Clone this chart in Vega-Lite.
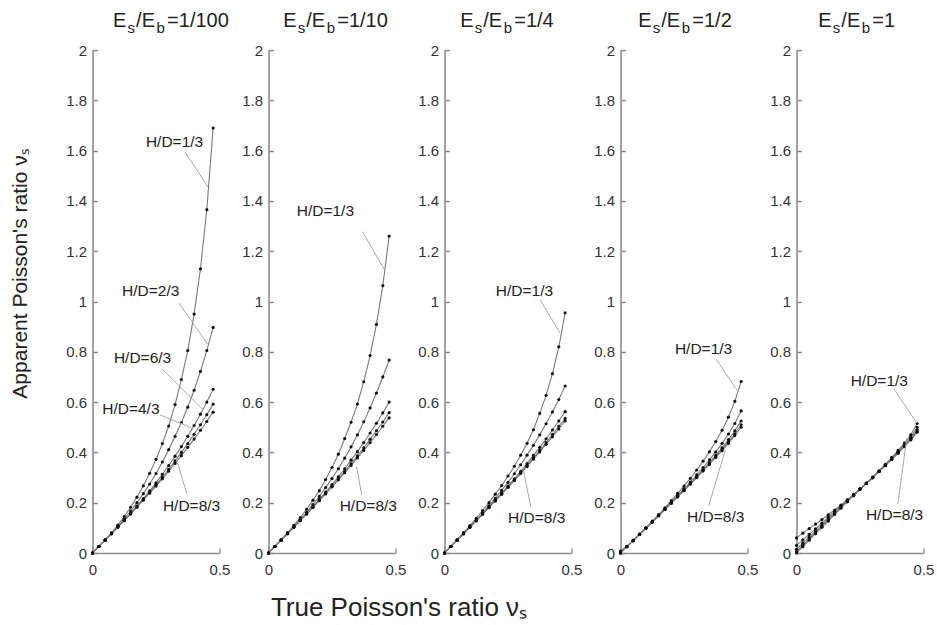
{
"$schema":"https://vega.github.io/schema/vega-lite/v6.json",
"background":"white",
"padding":{"left":9.5,"top":10,"right":5,"bottom":5},
"bounds":"flush",
"spacing":49,
"config":{
 "view":{"stroke":null},
 "font":"Liberation Sans",
 "axis":{"grid":false,"domainColor":"#8a8a8a","domainWidth":1.6,"tickColor":"#8a8a8a","tickWidth":1.4,"labelFont":"Liberation Sans","labelFontSize":15,"labelColor":"#333","titleFont":"Liberation Sans","titleFontSize":21,"titleFontWeight":"normal","titleColor":"#222","labelFlush":false},
 "axisX":{"tickSize":-5,"labelPadding":14},
 "axisY":{"tickSize":-5,"labelPadding":11}
},
"datasets":{
"curves":[
{"p":1,"h":"1/3","x":0,"y":0},{"p":1,"h":"1/3","x":0.025,"y":0.026},{"p":1,"h":"1/3","x":0.05,"y":0.052},{"p":1,"h":"1/3","x":0.075,"y":0.08},{"p":1,"h":"1/3","x":0.1,"y":0.111},{"p":1,"h":"1/3","x":0.125,"y":0.145},{"p":1,"h":"1/3","x":0.15,"y":0.182},{"p":1,"h":"1/3","x":0.175,"y":0.222},{"p":1,"h":"1/3","x":0.2,"y":0.267},{"p":1,"h":"1/3","x":0.225,"y":0.317},{"p":1,"h":"1/3","x":0.25,"y":0.372},{"p":1,"h":"1/3","x":0.275,"y":0.435},{"p":1,"h":"1/3","x":0.3,"y":0.505},{"p":1,"h":"1/3","x":0.325,"y":0.59},{"p":1,"h":"1/3","x":0.35,"y":0.69},{"p":1,"h":"1/3","x":0.375,"y":0.805},{"p":1,"h":"1/3","x":0.4,"y":0.95},{"p":1,"h":"1/3","x":0.425,"y":1.13},{"p":1,"h":"1/3","x":0.45,"y":1.365},{"p":1,"h":"1/3","x":0.475,"y":1.69},
{"p":1,"h":"2/3","x":0,"y":0},{"p":1,"h":"2/3","x":0.025,"y":0.026},{"p":1,"h":"2/3","x":0.05,"y":0.052},{"p":1,"h":"2/3","x":0.075,"y":0.078},{"p":1,"h":"2/3","x":0.1,"y":0.106},{"p":1,"h":"2/3","x":0.125,"y":0.136},{"p":1,"h":"2/3","x":0.15,"y":0.167},{"p":1,"h":"2/3","x":0.175,"y":0.2},{"p":1,"h":"2/3","x":0.2,"y":0.236},{"p":1,"h":"2/3","x":0.225,"y":0.274},{"p":1,"h":"2/3","x":0.25,"y":0.316},{"p":1,"h":"2/3","x":0.275,"y":0.362},{"p":1,"h":"2/3","x":0.3,"y":0.411},{"p":1,"h":"2/3","x":0.325,"y":0.464},{"p":1,"h":"2/3","x":0.35,"y":0.519},{"p":1,"h":"2/3","x":0.375,"y":0.58},{"p":1,"h":"2/3","x":0.4,"y":0.647},{"p":1,"h":"2/3","x":0.425,"y":0.722},{"p":1,"h":"2/3","x":0.45,"y":0.805},{"p":1,"h":"2/3","x":0.475,"y":0.897},
{"p":1,"h":"4/3","x":0,"y":0},{"p":1,"h":"4/3","x":0.025,"y":0.026},{"p":1,"h":"4/3","x":0.05,"y":0.051},{"p":1,"h":"4/3","x":0.075,"y":0.077},{"p":1,"h":"4/3","x":0.1,"y":0.104},{"p":1,"h":"4/3","x":0.125,"y":0.131},{"p":1,"h":"4/3","x":0.15,"y":0.158},{"p":1,"h":"4/3","x":0.175,"y":0.187},{"p":1,"h":"4/3","x":0.2,"y":0.216},{"p":1,"h":"4/3","x":0.225,"y":0.247},{"p":1,"h":"4/3","x":0.25,"y":0.279},{"p":1,"h":"4/3","x":0.275,"y":0.313},{"p":1,"h":"4/3","x":0.3,"y":0.348},{"p":1,"h":"4/3","x":0.325,"y":0.385},{"p":1,"h":"4/3","x":0.35,"y":0.423},{"p":1,"h":"4/3","x":0.375,"y":0.464},{"p":1,"h":"4/3","x":0.4,"y":0.507},{"p":1,"h":"4/3","x":0.425,"y":0.552},{"p":1,"h":"4/3","x":0.45,"y":0.6},{"p":1,"h":"4/3","x":0.475,"y":0.651},
{"p":1,"h":"6/3","x":0,"y":0},{"p":1,"h":"6/3","x":0.025,"y":0.026},{"p":1,"h":"6/3","x":0.05,"y":0.051},{"p":1,"h":"6/3","x":0.075,"y":0.077},{"p":1,"h":"6/3","x":0.1,"y":0.103},{"p":1,"h":"6/3","x":0.125,"y":0.13},{"p":1,"h":"6/3","x":0.15,"y":0.156},{"p":1,"h":"6/3","x":0.175,"y":0.184},{"p":1,"h":"6/3","x":0.2,"y":0.212},{"p":1,"h":"6/3","x":0.225,"y":0.241},{"p":1,"h":"6/3","x":0.25,"y":0.271},{"p":1,"h":"6/3","x":0.275,"y":0.301},{"p":1,"h":"6/3","x":0.3,"y":0.333},{"p":1,"h":"6/3","x":0.325,"y":0.366},{"p":1,"h":"6/3","x":0.35,"y":0.4},{"p":1,"h":"6/3","x":0.375,"y":0.435},{"p":1,"h":"6/3","x":0.4,"y":0.472},{"p":1,"h":"6/3","x":0.425,"y":0.51},{"p":1,"h":"6/3","x":0.45,"y":0.55},{"p":1,"h":"6/3","x":0.475,"y":0.592},
{"p":1,"h":"8/3","x":0,"y":0},{"p":1,"h":"8/3","x":0.025,"y":0.026},{"p":1,"h":"8/3","x":0.05,"y":0.051},{"p":1,"h":"8/3","x":0.075,"y":0.077},{"p":1,"h":"8/3","x":0.1,"y":0.103},{"p":1,"h":"8/3","x":0.125,"y":0.129},{"p":1,"h":"8/3","x":0.15,"y":0.155},{"p":1,"h":"8/3","x":0.175,"y":0.182},{"p":1,"h":"8/3","x":0.2,"y":0.21},{"p":1,"h":"8/3","x":0.225,"y":0.238},{"p":1,"h":"8/3","x":0.25,"y":0.266},{"p":1,"h":"8/3","x":0.275,"y":0.295},{"p":1,"h":"8/3","x":0.3,"y":0.325},{"p":1,"h":"8/3","x":0.325,"y":0.356},{"p":1,"h":"8/3","x":0.35,"y":0.387},{"p":1,"h":"8/3","x":0.375,"y":0.42},{"p":1,"h":"8/3","x":0.4,"y":0.453},{"p":1,"h":"8/3","x":0.425,"y":0.488},{"p":1,"h":"8/3","x":0.45,"y":0.523},{"p":1,"h":"8/3","x":0.475,"y":0.56},
{"p":2,"h":"1/3","x":0,"y":0},{"p":2,"h":"1/3","x":0.025,"y":0.026},{"p":2,"h":"1/3","x":0.05,"y":0.053},{"p":2,"h":"1/3","x":0.075,"y":0.081},{"p":2,"h":"1/3","x":0.1,"y":0.11},{"p":2,"h":"1/3","x":0.125,"y":0.141},{"p":2,"h":"1/3","x":0.15,"y":0.174},{"p":2,"h":"1/3","x":0.175,"y":0.21},{"p":2,"h":"1/3","x":0.2,"y":0.248},{"p":2,"h":"1/3","x":0.225,"y":0.292},{"p":2,"h":"1/3","x":0.25,"y":0.34},{"p":2,"h":"1/3","x":0.275,"y":0.393},{"p":2,"h":"1/3","x":0.3,"y":0.455},{"p":2,"h":"1/3","x":0.325,"y":0.52},{"p":2,"h":"1/3","x":0.35,"y":0.592},{"p":2,"h":"1/3","x":0.375,"y":0.681},{"p":2,"h":"1/3","x":0.4,"y":0.785},{"p":2,"h":"1/3","x":0.425,"y":0.909},{"p":2,"h":"1/3","x":0.45,"y":1.063},{"p":2,"h":"1/3","x":0.475,"y":1.26},
{"p":2,"h":"2/3","x":0,"y":0},{"p":2,"h":"2/3","x":0.025,"y":0.026},{"p":2,"h":"2/3","x":0.05,"y":0.051},{"p":2,"h":"2/3","x":0.075,"y":0.078},{"p":2,"h":"2/3","x":0.1,"y":0.105},{"p":2,"h":"2/3","x":0.125,"y":0.133},{"p":2,"h":"2/3","x":0.15,"y":0.162},{"p":2,"h":"2/3","x":0.175,"y":0.193},{"p":2,"h":"2/3","x":0.2,"y":0.225},{"p":2,"h":"2/3","x":0.225,"y":0.26},{"p":2,"h":"2/3","x":0.25,"y":0.296},{"p":2,"h":"2/3","x":0.275,"y":0.335},{"p":2,"h":"2/3","x":0.3,"y":0.377},{"p":2,"h":"2/3","x":0.325,"y":0.422},{"p":2,"h":"2/3","x":0.35,"y":0.47},{"p":2,"h":"2/3","x":0.375,"y":0.522},{"p":2,"h":"2/3","x":0.4,"y":0.577},{"p":2,"h":"2/3","x":0.425,"y":0.636},{"p":2,"h":"2/3","x":0.45,"y":0.7},{"p":2,"h":"2/3","x":0.475,"y":0.767},
{"p":2,"h":"4/3","x":0,"y":0},{"p":2,"h":"4/3","x":0.025,"y":0.026},{"p":2,"h":"4/3","x":0.05,"y":0.051},{"p":2,"h":"4/3","x":0.075,"y":0.077},{"p":2,"h":"4/3","x":0.1,"y":0.103},{"p":2,"h":"4/3","x":0.125,"y":0.13},{"p":2,"h":"4/3","x":0.15,"y":0.157},{"p":2,"h":"4/3","x":0.175,"y":0.184},{"p":2,"h":"4/3","x":0.2,"y":0.213},{"p":2,"h":"4/3","x":0.225,"y":0.242},{"p":2,"h":"4/3","x":0.25,"y":0.272},{"p":2,"h":"4/3","x":0.275,"y":0.303},{"p":2,"h":"4/3","x":0.3,"y":0.335},{"p":2,"h":"4/3","x":0.325,"y":0.369},{"p":2,"h":"4/3","x":0.35,"y":0.403},{"p":2,"h":"4/3","x":0.375,"y":0.439},{"p":2,"h":"4/3","x":0.4,"y":0.477},{"p":2,"h":"4/3","x":0.425,"y":0.516},{"p":2,"h":"4/3","x":0.45,"y":0.557},{"p":2,"h":"4/3","x":0.475,"y":0.6},
{"p":2,"h":"6/3","x":0,"y":0},{"p":2,"h":"6/3","x":0.025,"y":0.026},{"p":2,"h":"6/3","x":0.05,"y":0.051},{"p":2,"h":"6/3","x":0.075,"y":0.077},{"p":2,"h":"6/3","x":0.1,"y":0.103},{"p":2,"h":"6/3","x":0.125,"y":0.129},{"p":2,"h":"6/3","x":0.15,"y":0.155},{"p":2,"h":"6/3","x":0.175,"y":0.182},{"p":2,"h":"6/3","x":0.2,"y":0.209},{"p":2,"h":"6/3","x":0.225,"y":0.237},{"p":2,"h":"6/3","x":0.25,"y":0.265},{"p":2,"h":"6/3","x":0.275,"y":0.294},{"p":2,"h":"6/3","x":0.3,"y":0.324},{"p":2,"h":"6/3","x":0.325,"y":0.355},{"p":2,"h":"6/3","x":0.35,"y":0.386},{"p":2,"h":"6/3","x":0.375,"y":0.418},{"p":2,"h":"6/3","x":0.4,"y":0.452},{"p":2,"h":"6/3","x":0.425,"y":0.486},{"p":2,"h":"6/3","x":0.45,"y":0.521},{"p":2,"h":"6/3","x":0.475,"y":0.558},
{"p":2,"h":"8/3","x":0,"y":0},{"p":2,"h":"8/3","x":0.025,"y":0.026},{"p":2,"h":"8/3","x":0.05,"y":0.051},{"p":2,"h":"8/3","x":0.075,"y":0.077},{"p":2,"h":"8/3","x":0.1,"y":0.103},{"p":2,"h":"8/3","x":0.125,"y":0.129},{"p":2,"h":"8/3","x":0.15,"y":0.155},{"p":2,"h":"8/3","x":0.175,"y":0.181},{"p":2,"h":"8/3","x":0.2,"y":0.208},{"p":2,"h":"8/3","x":0.225,"y":0.235},{"p":2,"h":"8/3","x":0.25,"y":0.263},{"p":2,"h":"8/3","x":0.275,"y":0.291},{"p":2,"h":"8/3","x":0.3,"y":0.319},{"p":2,"h":"8/3","x":0.325,"y":0.348},{"p":2,"h":"8/3","x":0.35,"y":0.378},{"p":2,"h":"8/3","x":0.375,"y":0.408},{"p":2,"h":"8/3","x":0.4,"y":0.439},{"p":2,"h":"8/3","x":0.425,"y":0.471},{"p":2,"h":"8/3","x":0.45,"y":0.504},{"p":2,"h":"8/3","x":0.475,"y":0.537},
{"p":3,"h":"1/3","x":0,"y":0},{"p":3,"h":"1/3","x":0.025,"y":0.026},{"p":3,"h":"1/3","x":0.05,"y":0.053},{"p":3,"h":"1/3","x":0.075,"y":0.081},{"p":3,"h":"1/3","x":0.1,"y":0.109},{"p":3,"h":"1/3","x":0.125,"y":0.138},{"p":3,"h":"1/3","x":0.15,"y":0.169},{"p":3,"h":"1/3","x":0.175,"y":0.2},{"p":3,"h":"1/3","x":0.2,"y":0.234},{"p":3,"h":"1/3","x":0.225,"y":0.268},{"p":3,"h":"1/3","x":0.25,"y":0.306},{"p":3,"h":"1/3","x":0.275,"y":0.345},{"p":3,"h":"1/3","x":0.3,"y":0.389},{"p":3,"h":"1/3","x":0.325,"y":0.436},{"p":3,"h":"1/3","x":0.35,"y":0.49},{"p":3,"h":"1/3","x":0.375,"y":0.555},{"p":3,"h":"1/3","x":0.4,"y":0.627},{"p":3,"h":"1/3","x":0.425,"y":0.713},{"p":3,"h":"1/3","x":0.45,"y":0.82},{"p":3,"h":"1/3","x":0.475,"y":0.955},
{"p":3,"h":"2/3","x":0,"y":0},{"p":3,"h":"2/3","x":0.025,"y":0.026},{"p":3,"h":"2/3","x":0.05,"y":0.051},{"p":3,"h":"2/3","x":0.075,"y":0.077},{"p":3,"h":"2/3","x":0.1,"y":0.104},{"p":3,"h":"2/3","x":0.125,"y":0.131},{"p":3,"h":"2/3","x":0.15,"y":0.159},{"p":3,"h":"2/3","x":0.175,"y":0.188},{"p":3,"h":"2/3","x":0.2,"y":0.217},{"p":3,"h":"2/3","x":0.225,"y":0.249},{"p":3,"h":"2/3","x":0.25,"y":0.281},{"p":3,"h":"2/3","x":0.275,"y":0.315},{"p":3,"h":"2/3","x":0.3,"y":0.351},{"p":3,"h":"2/3","x":0.325,"y":0.389},{"p":3,"h":"2/3","x":0.35,"y":0.428},{"p":3,"h":"2/3","x":0.375,"y":0.47},{"p":3,"h":"2/3","x":0.4,"y":0.514},{"p":3,"h":"2/3","x":0.425,"y":0.561},{"p":3,"h":"2/3","x":0.45,"y":0.61},{"p":3,"h":"2/3","x":0.475,"y":0.664},
{"p":3,"h":"4/3","x":0,"y":0},{"p":3,"h":"4/3","x":0.025,"y":0.026},{"p":3,"h":"4/3","x":0.05,"y":0.051},{"p":3,"h":"4/3","x":0.075,"y":0.077},{"p":3,"h":"4/3","x":0.1,"y":0.103},{"p":3,"h":"4/3","x":0.125,"y":0.129},{"p":3,"h":"4/3","x":0.15,"y":0.155},{"p":3,"h":"4/3","x":0.175,"y":0.182},{"p":3,"h":"4/3","x":0.2,"y":0.21},{"p":3,"h":"4/3","x":0.225,"y":0.238},{"p":3,"h":"4/3","x":0.25,"y":0.266},{"p":3,"h":"4/3","x":0.275,"y":0.295},{"p":3,"h":"4/3","x":0.3,"y":0.325},{"p":3,"h":"4/3","x":0.325,"y":0.356},{"p":3,"h":"4/3","x":0.35,"y":0.388},{"p":3,"h":"4/3","x":0.375,"y":0.42},{"p":3,"h":"4/3","x":0.4,"y":0.454},{"p":3,"h":"4/3","x":0.425,"y":0.489},{"p":3,"h":"4/3","x":0.45,"y":0.525},{"p":3,"h":"4/3","x":0.475,"y":0.562},
{"p":3,"h":"6/3","x":0,"y":0},{"p":3,"h":"6/3","x":0.025,"y":0.026},{"p":3,"h":"6/3","x":0.05,"y":0.051},{"p":3,"h":"6/3","x":0.075,"y":0.077},{"p":3,"h":"6/3","x":0.1,"y":0.103},{"p":3,"h":"6/3","x":0.125,"y":0.129},{"p":3,"h":"6/3","x":0.15,"y":0.155},{"p":3,"h":"6/3","x":0.175,"y":0.181},{"p":3,"h":"6/3","x":0.2,"y":0.208},{"p":3,"h":"6/3","x":0.225,"y":0.235},{"p":3,"h":"6/3","x":0.25,"y":0.263},{"p":3,"h":"6/3","x":0.275,"y":0.291},{"p":3,"h":"6/3","x":0.3,"y":0.319},{"p":3,"h":"6/3","x":0.325,"y":0.348},{"p":3,"h":"6/3","x":0.35,"y":0.378},{"p":3,"h":"6/3","x":0.375,"y":0.408},{"p":3,"h":"6/3","x":0.4,"y":0.439},{"p":3,"h":"6/3","x":0.425,"y":0.471},{"p":3,"h":"6/3","x":0.45,"y":0.504},{"p":3,"h":"6/3","x":0.475,"y":0.535},
{"p":3,"h":"8/3","x":0,"y":0},{"p":3,"h":"8/3","x":0.025,"y":0.026},{"p":3,"h":"8/3","x":0.05,"y":0.051},{"p":3,"h":"8/3","x":0.075,"y":0.077},{"p":3,"h":"8/3","x":0.1,"y":0.102},{"p":3,"h":"8/3","x":0.125,"y":0.128},{"p":3,"h":"8/3","x":0.15,"y":0.154},{"p":3,"h":"8/3","x":0.175,"y":0.181},{"p":3,"h":"8/3","x":0.2,"y":0.207},{"p":3,"h":"8/3","x":0.225,"y":0.234},{"p":3,"h":"8/3","x":0.25,"y":0.261},{"p":3,"h":"8/3","x":0.275,"y":0.288},{"p":3,"h":"8/3","x":0.3,"y":0.316},{"p":3,"h":"8/3","x":0.325,"y":0.344},{"p":3,"h":"8/3","x":0.35,"y":0.373},{"p":3,"h":"8/3","x":0.375,"y":0.402},{"p":3,"h":"8/3","x":0.4,"y":0.432},{"p":3,"h":"8/3","x":0.425,"y":0.462},{"p":3,"h":"8/3","x":0.45,"y":0.493},{"p":3,"h":"8/3","x":0.475,"y":0.525},
{"p":4,"h":"1/3","x":0,"y":0.008},{"p":4,"h":"1/3","x":0.025,"y":0.027},{"p":4,"h":"1/3","x":0.05,"y":0.051},{"p":4,"h":"1/3","x":0.075,"y":0.075},{"p":4,"h":"1/3","x":0.1,"y":0.1},{"p":4,"h":"1/3","x":0.125,"y":0.127},{"p":4,"h":"1/3","x":0.15,"y":0.153},{"p":4,"h":"1/3","x":0.175,"y":0.18},{"p":4,"h":"1/3","x":0.2,"y":0.208},{"p":4,"h":"1/3","x":0.225,"y":0.237},{"p":4,"h":"1/3","x":0.25,"y":0.266},{"p":4,"h":"1/3","x":0.275,"y":0.297},{"p":4,"h":"1/3","x":0.3,"y":0.33},{"p":4,"h":"1/3","x":0.325,"y":0.365},{"p":4,"h":"1/3","x":0.35,"y":0.402},{"p":4,"h":"1/3","x":0.375,"y":0.443},{"p":4,"h":"1/3","x":0.4,"y":0.488},{"p":4,"h":"1/3","x":0.425,"y":0.54},{"p":4,"h":"1/3","x":0.45,"y":0.603},{"p":4,"h":"1/3","x":0.475,"y":0.682},
{"p":4,"h":"2/3","x":0,"y":0.004},{"p":4,"h":"2/3","x":0.025,"y":0.026},{"p":4,"h":"2/3","x":0.05,"y":0.049},{"p":4,"h":"2/3","x":0.075,"y":0.074},{"p":4,"h":"2/3","x":0.1,"y":0.099},{"p":4,"h":"2/3","x":0.125,"y":0.124},{"p":4,"h":"2/3","x":0.15,"y":0.15},{"p":4,"h":"2/3","x":0.175,"y":0.176},{"p":4,"h":"2/3","x":0.2,"y":0.202},{"p":4,"h":"2/3","x":0.225,"y":0.228},{"p":4,"h":"2/3","x":0.25,"y":0.255},{"p":4,"h":"2/3","x":0.275,"y":0.282},{"p":4,"h":"2/3","x":0.3,"y":0.311},{"p":4,"h":"2/3","x":0.325,"y":0.34},{"p":4,"h":"2/3","x":0.35,"y":0.37},{"p":4,"h":"2/3","x":0.375,"y":0.402},{"p":4,"h":"2/3","x":0.4,"y":0.436},{"p":4,"h":"2/3","x":0.425,"y":0.473},{"p":4,"h":"2/3","x":0.45,"y":0.515},{"p":4,"h":"2/3","x":0.475,"y":0.565},
{"p":4,"h":"4/3","x":0,"y":0},{"p":4,"h":"4/3","x":0.025,"y":0.025},{"p":4,"h":"4/3","x":0.05,"y":0.049},{"p":4,"h":"4/3","x":0.075,"y":0.074},{"p":4,"h":"4/3","x":0.1,"y":0.099},{"p":4,"h":"4/3","x":0.125,"y":0.124},{"p":4,"h":"4/3","x":0.15,"y":0.149},{"p":4,"h":"4/3","x":0.175,"y":0.174},{"p":4,"h":"4/3","x":0.2,"y":0.199},{"p":4,"h":"4/3","x":0.225,"y":0.225},{"p":4,"h":"4/3","x":0.25,"y":0.251},{"p":4,"h":"4/3","x":0.275,"y":0.277},{"p":4,"h":"4/3","x":0.3,"y":0.304},{"p":4,"h":"4/3","x":0.325,"y":0.331},{"p":4,"h":"4/3","x":0.35,"y":0.359},{"p":4,"h":"4/3","x":0.375,"y":0.388},{"p":4,"h":"4/3","x":0.4,"y":0.418},{"p":4,"h":"4/3","x":0.425,"y":0.451},{"p":4,"h":"4/3","x":0.45,"y":0.486},{"p":4,"h":"4/3","x":0.475,"y":0.525},
{"p":4,"h":"6/3","x":0,"y":0},{"p":4,"h":"6/3","x":0.025,"y":0.025},{"p":4,"h":"6/3","x":0.05,"y":0.049},{"p":4,"h":"6/3","x":0.075,"y":0.074},{"p":4,"h":"6/3","x":0.1,"y":0.099},{"p":4,"h":"6/3","x":0.125,"y":0.123},{"p":4,"h":"6/3","x":0.15,"y":0.148},{"p":4,"h":"6/3","x":0.175,"y":0.173},{"p":4,"h":"6/3","x":0.2,"y":0.199},{"p":4,"h":"6/3","x":0.225,"y":0.224},{"p":4,"h":"6/3","x":0.25,"y":0.249},{"p":4,"h":"6/3","x":0.275,"y":0.275},{"p":4,"h":"6/3","x":0.3,"y":0.301},{"p":4,"h":"6/3","x":0.325,"y":0.328},{"p":4,"h":"6/3","x":0.35,"y":0.355},{"p":4,"h":"6/3","x":0.375,"y":0.383},{"p":4,"h":"6/3","x":0.4,"y":0.412},{"p":4,"h":"6/3","x":0.425,"y":0.442},{"p":4,"h":"6/3","x":0.45,"y":0.474},{"p":4,"h":"6/3","x":0.475,"y":0.51},
{"p":4,"h":"8/3","x":0,"y":0},{"p":4,"h":"8/3","x":0.025,"y":0.025},{"p":4,"h":"8/3","x":0.05,"y":0.049},{"p":4,"h":"8/3","x":0.075,"y":0.074},{"p":4,"h":"8/3","x":0.1,"y":0.098},{"p":4,"h":"8/3","x":0.125,"y":0.123},{"p":4,"h":"8/3","x":0.15,"y":0.148},{"p":4,"h":"8/3","x":0.175,"y":0.173},{"p":4,"h":"8/3","x":0.2,"y":0.198},{"p":4,"h":"8/3","x":0.225,"y":0.223},{"p":4,"h":"8/3","x":0.25,"y":0.248},{"p":4,"h":"8/3","x":0.275,"y":0.274},{"p":4,"h":"8/3","x":0.3,"y":0.3},{"p":4,"h":"8/3","x":0.325,"y":0.326},{"p":4,"h":"8/3","x":0.35,"y":0.352},{"p":4,"h":"8/3","x":0.375,"y":0.38},{"p":4,"h":"8/3","x":0.4,"y":0.407},{"p":4,"h":"8/3","x":0.425,"y":0.436},{"p":4,"h":"8/3","x":0.45,"y":0.467},{"p":4,"h":"8/3","x":0.475,"y":0.5},
{"p":5,"h":"1/3","x":0,"y":0.06},{"p":5,"h":"1/3","x":0.025,"y":0.079},{"p":5,"h":"1/3","x":0.05,"y":0.097},{"p":5,"h":"1/3","x":0.075,"y":0.115},{"p":5,"h":"1/3","x":0.1,"y":0.133},{"p":5,"h":"1/3","x":0.125,"y":0.152},{"p":5,"h":"1/3","x":0.15,"y":0.171},{"p":5,"h":"1/3","x":0.175,"y":0.191},{"p":5,"h":"1/3","x":0.2,"y":0.211},{"p":5,"h":"1/3","x":0.225,"y":0.233},{"p":5,"h":"1/3","x":0.25,"y":0.255},{"p":5,"h":"1/3","x":0.275,"y":0.278},{"p":5,"h":"1/3","x":0.3,"y":0.302},{"p":5,"h":"1/3","x":0.325,"y":0.327},{"p":5,"h":"1/3","x":0.35,"y":0.353},{"p":5,"h":"1/3","x":0.375,"y":0.38},{"p":5,"h":"1/3","x":0.4,"y":0.408},{"p":5,"h":"1/3","x":0.425,"y":0.437},{"p":5,"h":"1/3","x":0.45,"y":0.47},{"p":5,"h":"1/3","x":0.475,"y":0.515},
{"p":5,"h":"2/3","x":0,"y":0.03},{"p":5,"h":"2/3","x":0.025,"y":0.052},{"p":5,"h":"2/3","x":0.05,"y":0.074},{"p":5,"h":"2/3","x":0.075,"y":0.096},{"p":5,"h":"2/3","x":0.1,"y":0.119},{"p":5,"h":"2/3","x":0.125,"y":0.142},{"p":5,"h":"2/3","x":0.15,"y":0.165},{"p":5,"h":"2/3","x":0.175,"y":0.188},{"p":5,"h":"2/3","x":0.2,"y":0.21},{"p":5,"h":"2/3","x":0.225,"y":0.232},{"p":5,"h":"2/3","x":0.25,"y":0.255},{"p":5,"h":"2/3","x":0.275,"y":0.278},{"p":5,"h":"2/3","x":0.3,"y":0.301},{"p":5,"h":"2/3","x":0.325,"y":0.325},{"p":5,"h":"2/3","x":0.35,"y":0.35},{"p":5,"h":"2/3","x":0.375,"y":0.376},{"p":5,"h":"2/3","x":0.4,"y":0.402},{"p":5,"h":"2/3","x":0.425,"y":0.43},{"p":5,"h":"2/3","x":0.45,"y":0.46},{"p":5,"h":"2/3","x":0.475,"y":0.5},
{"p":5,"h":"4/3","x":0,"y":0.015},{"p":5,"h":"4/3","x":0.025,"y":0.039},{"p":5,"h":"4/3","x":0.05,"y":0.063},{"p":5,"h":"4/3","x":0.075,"y":0.087},{"p":5,"h":"4/3","x":0.1,"y":0.111},{"p":5,"h":"4/3","x":0.125,"y":0.136},{"p":5,"h":"4/3","x":0.15,"y":0.16},{"p":5,"h":"4/3","x":0.175,"y":0.185},{"p":5,"h":"4/3","x":0.2,"y":0.208},{"p":5,"h":"4/3","x":0.225,"y":0.231},{"p":5,"h":"4/3","x":0.25,"y":0.254},{"p":5,"h":"4/3","x":0.275,"y":0.277},{"p":5,"h":"4/3","x":0.3,"y":0.3},{"p":5,"h":"4/3","x":0.325,"y":0.324},{"p":5,"h":"4/3","x":0.35,"y":0.349},{"p":5,"h":"4/3","x":0.375,"y":0.374},{"p":5,"h":"4/3","x":0.4,"y":0.4},{"p":5,"h":"4/3","x":0.425,"y":0.427},{"p":5,"h":"4/3","x":0.45,"y":0.455},{"p":5,"h":"4/3","x":0.475,"y":0.49},
{"p":5,"h":"6/3","x":0,"y":0.006},{"p":5,"h":"6/3","x":0.025,"y":0.031},{"p":5,"h":"6/3","x":0.05,"y":0.056},{"p":5,"h":"6/3","x":0.075,"y":0.081},{"p":5,"h":"6/3","x":0.1,"y":0.106},{"p":5,"h":"6/3","x":0.125,"y":0.131},{"p":5,"h":"6/3","x":0.15,"y":0.156},{"p":5,"h":"6/3","x":0.175,"y":0.181},{"p":5,"h":"6/3","x":0.2,"y":0.206},{"p":5,"h":"6/3","x":0.225,"y":0.23},{"p":5,"h":"6/3","x":0.25,"y":0.254},{"p":5,"h":"6/3","x":0.275,"y":0.277},{"p":5,"h":"6/3","x":0.3,"y":0.3},{"p":5,"h":"6/3","x":0.325,"y":0.324},{"p":5,"h":"6/3","x":0.35,"y":0.348},{"p":5,"h":"6/3","x":0.375,"y":0.373},{"p":5,"h":"6/3","x":0.4,"y":0.398},{"p":5,"h":"6/3","x":0.425,"y":0.425},{"p":5,"h":"6/3","x":0.45,"y":0.452},{"p":5,"h":"6/3","x":0.475,"y":0.485},
{"p":5,"h":"8/3","x":0,"y":0},{"p":5,"h":"8/3","x":0.025,"y":0.025},{"p":5,"h":"8/3","x":0.05,"y":0.051},{"p":5,"h":"8/3","x":0.075,"y":0.077},{"p":5,"h":"8/3","x":0.1,"y":0.102},{"p":5,"h":"8/3","x":0.125,"y":0.127},{"p":5,"h":"8/3","x":0.15,"y":0.153},{"p":5,"h":"8/3","x":0.175,"y":0.178},{"p":5,"h":"8/3","x":0.2,"y":0.203},{"p":5,"h":"8/3","x":0.225,"y":0.228},{"p":5,"h":"8/3","x":0.25,"y":0.252},{"p":5,"h":"8/3","x":0.275,"y":0.276},{"p":5,"h":"8/3","x":0.3,"y":0.299},{"p":5,"h":"8/3","x":0.325,"y":0.323},{"p":5,"h":"8/3","x":0.35,"y":0.347},{"p":5,"h":"8/3","x":0.375,"y":0.372},{"p":5,"h":"8/3","x":0.4,"y":0.397},{"p":5,"h":"8/3","x":0.425,"y":0.423},{"p":5,"h":"8/3","x":0.45,"y":0.45},{"p":5,"h":"8/3","x":0.475,"y":0.48}
],
"labels":[
{"p":1,"t":"H/D=1/3","x":0.323,"y":1.635},{"p":1,"t":"H/D=2/3","x":0.229,"y":1.043},{"p":1,"t":"H/D=6/3","x":0.197,"y":0.774},{"p":1,"t":"H/D=4/3","x":0.151,"y":0.571},{"p":1,"t":"H/D=8/3","x":0.39,"y":0.187},
{"p":2,"t":"H/D=1/3","x":0.224,"y":1.36},{"p":2,"t":"H/D=8/3","x":0.393,"y":0.187},
{"p":3,"t":"H/D=1/3","x":0.315,"y":1.042},{"p":3,"t":"H/D=8/3","x":0.363,"y":0.138},
{"p":4,"t":"H/D=1/3","x":0.327,"y":0.81},{"p":4,"t":"H/D=8/3","x":0.375,"y":0.142},
{"p":5,"t":"H/D=1/3","x":0.326,"y":0.685},{"p":5,"t":"H/D=8/3","x":0.386,"y":0.151}
],
"leaders":[
{"p":1,"x":0.364,"y":1.594,"x2":0.455,"y2":1.455},{"p":1,"x":0.341,"y":0.993,"x2":0.453,"y2":0.831},{"p":1,"x":0.272,"y":0.734,"x2":0.436,"y2":0.569},{"p":1,"x":0.266,"y":0.549,"x2":0.39,"y2":0.498},{"p":1,"x":0.371,"y":0.237,"x2":0.329,"y2":0.377},
{"p":2,"x":0.37,"y":1.278,"x2":0.455,"y2":1.128},{"p":2,"x":0.367,"y":0.231,"x2":0.347,"y2":0.343},
{"p":3,"x":0.377,"y":1.006,"x2":0.455,"y2":0.874},{"p":3,"x":0.34,"y":0.182,"x2":0.311,"y2":0.327},
{"p":4,"x":0.377,"y":0.77,"x2":0.458,"y2":0.648},{"p":4,"x":0.347,"y":0.187,"x2":0.413,"y2":0.41},
{"p":5,"x":0.382,"y":0.655,"x2":0.474,"y2":0.516},{"p":5,"x":0.399,"y":0.195,"x2":0.434,"y2":0.456}
],
"titles":[{"p":1,"r":"=1/100"},{"p":2,"r":"=1/10"},{"p":3,"r":"=1/4"},{"p":4,"r":"=1/2"},{"p":5,"r":"=1"}]
},
"hconcat":[
{"width":127,"height":503,"layer":[
 {"data":{"name":"curves"},"transform":[{"filter":"datum.p==1"}],"mark":{"type":"line","color":"#7a7a7a","strokeWidth":1.1},"encoding":{"x":{"field":"x","type":"quantitative","scale":{"domain":[0,0.5]},"axis":{"values":[0,0.5],"format":"~g","title":null}},"y":{"field":"y","type":"quantitative","scale":{"domain":[0,2]},"axis":{"values":[0,0.2,0.4,0.6,0.8,1,1.2,1.4,1.6,1.8,2],"format":"~g","title":"Apparent Poisson's ratio νₛ","titleX":-66,"titleY":223,"titleAlign":"center","titleBaseline":"alphabetic","titleAngle":-90}},"detail":{"field":"h"}}},
 {"data":{"name":"curves"},"transform":[{"filter":"datum.p==1"}],"mark":{"type":"point","filled":true,"size":10,"color":"#111","opacity":1},"encoding":{"x":{"field":"x","type":"quantitative"},"y":{"field":"y","type":"quantitative"}}},
 {"data":{"name":"leaders"},"transform":[{"filter":"datum.p==1"}],"mark":{"type":"rule","color":"#a8a8a8","strokeWidth":1},"encoding":{"x":{"field":"x","type":"quantitative"},"y":{"field":"y","type":"quantitative"},"x2":{"field":"x2"},"y2":{"field":"y2"}}},
 {"data":{"name":"labels"},"transform":[{"filter":"datum.p==1"}],"mark":{"type":"text","fontSize":15.5,"color":"#222"},"encoding":{"x":{"field":"x","type":"quantitative"},"y":{"field":"y","type":"quantitative"},"text":{"field":"t"}}},
 {"data":{"name":"titles"},"transform":[{"filter":"datum.p==1"}],"mark":{"type":"text","text":"E","align":"left","baseline":"alphabetic","fontSize":20,"color":"#222","clip":false},"encoding":{"x":{"datum":0.081},"y":{"datum":2.093}}},
 {"data":{"name":"titles"},"transform":[{"filter":"datum.p==1"}],"mark":{"type":"text","text":"s","align":"left","baseline":"alphabetic","fontSize":15,"dx":14.5,"dy":6.5,"color":"#222","clip":false},"encoding":{"x":{"datum":0.081},"y":{"datum":2.093}}},
 {"data":{"name":"titles"},"transform":[{"filter":"datum.p==1"}],"mark":{"type":"text","text":"/E","align":"left","baseline":"alphabetic","fontSize":20,"dx":23,"color":"#222","clip":false},"encoding":{"x":{"datum":0.081},"y":{"datum":2.093}}},
 {"data":{"name":"titles"},"transform":[{"filter":"datum.p==1"}],"mark":{"type":"text","text":"b","align":"left","baseline":"alphabetic","fontSize":15,"dx":43.5,"dy":6.5,"color":"#222","clip":false},"encoding":{"x":{"datum":0.081},"y":{"datum":2.093}}},
 {"data":{"name":"titles"},"transform":[{"filter":"datum.p==1"}],"mark":{"type":"text","align":"left","baseline":"alphabetic","fontSize":20,"dx":54,"color":"#222","clip":false},"encoding":{"x":{"datum":0.081},"y":{"datum":2.093},"text":{"field":"r"}}}
]},
{"width":127,"height":503,"layer":[
 {"data":{"name":"curves"},"transform":[{"filter":"datum.p==2"}],"mark":{"type":"line","color":"#7a7a7a","strokeWidth":1.1},"encoding":{"x":{"field":"x","type":"quantitative","scale":{"domain":[0,0.5]},"axis":{"values":[0,0.5],"format":"~g","title":"True Poisson's ratio νₛ","titleFontSize":26,"titleX":130,"titleY":62,"titleAlign":"center","titleBaseline":"alphabetic"}},"y":{"field":"y","type":"quantitative","scale":{"domain":[0,2]},"axis":{"values":[0,0.2,0.4,0.6,0.8,1,1.2,1.4,1.6,1.8,2],"format":"~g","title":null}},"detail":{"field":"h"}}},
 {"data":{"name":"curves"},"transform":[{"filter":"datum.p==2"}],"mark":{"type":"point","filled":true,"size":10,"color":"#111","opacity":1},"encoding":{"x":{"field":"x","type":"quantitative"},"y":{"field":"y","type":"quantitative"}}},
 {"data":{"name":"leaders"},"transform":[{"filter":"datum.p==2"}],"mark":{"type":"rule","color":"#a8a8a8","strokeWidth":1},"encoding":{"x":{"field":"x","type":"quantitative"},"y":{"field":"y","type":"quantitative"},"x2":{"field":"x2"},"y2":{"field":"y2"}}},
 {"data":{"name":"labels"},"transform":[{"filter":"datum.p==2"}],"mark":{"type":"text","fontSize":15.5,"color":"#222"},"encoding":{"x":{"field":"x","type":"quantitative"},"y":{"field":"y","type":"quantitative"},"text":{"field":"t"}}},
 {"data":{"name":"titles"},"transform":[{"filter":"datum.p==2"}],"mark":{"type":"text","text":"E","align":"left","baseline":"alphabetic","fontSize":20,"color":"#222","clip":false},"encoding":{"x":{"datum":0.058},"y":{"datum":2.093}}},
 {"data":{"name":"titles"},"transform":[{"filter":"datum.p==2"}],"mark":{"type":"text","text":"s","align":"left","baseline":"alphabetic","fontSize":15,"dx":14.5,"dy":6.5,"color":"#222","clip":false},"encoding":{"x":{"datum":0.058},"y":{"datum":2.093}}},
 {"data":{"name":"titles"},"transform":[{"filter":"datum.p==2"}],"mark":{"type":"text","text":"/E","align":"left","baseline":"alphabetic","fontSize":20,"dx":23,"color":"#222","clip":false},"encoding":{"x":{"datum":0.058},"y":{"datum":2.093}}},
 {"data":{"name":"titles"},"transform":[{"filter":"datum.p==2"}],"mark":{"type":"text","text":"b","align":"left","baseline":"alphabetic","fontSize":15,"dx":43.5,"dy":6.5,"color":"#222","clip":false},"encoding":{"x":{"datum":0.058},"y":{"datum":2.093}}},
 {"data":{"name":"titles"},"transform":[{"filter":"datum.p==2"}],"mark":{"type":"text","align":"left","baseline":"alphabetic","fontSize":20,"dx":54,"color":"#222","clip":false},"encoding":{"x":{"datum":0.058},"y":{"datum":2.093},"text":{"field":"r"}}}
]},
{"width":127,"height":503,"layer":[
 {"data":{"name":"curves"},"transform":[{"filter":"datum.p==3"}],"mark":{"type":"line","color":"#7a7a7a","strokeWidth":1.1},"encoding":{"x":{"field":"x","type":"quantitative","scale":{"domain":[0,0.5]},"axis":{"values":[0,0.5],"format":"~g","title":null}},"y":{"field":"y","type":"quantitative","scale":{"domain":[0,2]},"axis":{"values":[0,0.2,0.4,0.6,0.8,1,1.2,1.4,1.6,1.8,2],"format":"~g","title":null}},"detail":{"field":"h"}}},
 {"data":{"name":"curves"},"transform":[{"filter":"datum.p==3"}],"mark":{"type":"point","filled":true,"size":10,"color":"#111","opacity":1},"encoding":{"x":{"field":"x","type":"quantitative"},"y":{"field":"y","type":"quantitative"}}},
 {"data":{"name":"leaders"},"transform":[{"filter":"datum.p==3"}],"mark":{"type":"rule","color":"#a8a8a8","strokeWidth":1},"encoding":{"x":{"field":"x","type":"quantitative"},"y":{"field":"y","type":"quantitative"},"x2":{"field":"x2"},"y2":{"field":"y2"}}},
 {"data":{"name":"labels"},"transform":[{"filter":"datum.p==3"}],"mark":{"type":"text","fontSize":15.5,"color":"#222"},"encoding":{"x":{"field":"x","type":"quantitative"},"y":{"field":"y","type":"quantitative"},"text":{"field":"t"}}},
 {"data":{"name":"titles"},"transform":[{"filter":"datum.p==3"}],"mark":{"type":"text","text":"E","align":"left","baseline":"alphabetic","fontSize":20,"color":"#222","clip":false},"encoding":{"x":{"datum":0.062},"y":{"datum":2.093}}},
 {"data":{"name":"titles"},"transform":[{"filter":"datum.p==3"}],"mark":{"type":"text","text":"s","align":"left","baseline":"alphabetic","fontSize":15,"dx":14.5,"dy":6.5,"color":"#222","clip":false},"encoding":{"x":{"datum":0.062},"y":{"datum":2.093}}},
 {"data":{"name":"titles"},"transform":[{"filter":"datum.p==3"}],"mark":{"type":"text","text":"/E","align":"left","baseline":"alphabetic","fontSize":20,"dx":23,"color":"#222","clip":false},"encoding":{"x":{"datum":0.062},"y":{"datum":2.093}}},
 {"data":{"name":"titles"},"transform":[{"filter":"datum.p==3"}],"mark":{"type":"text","text":"b","align":"left","baseline":"alphabetic","fontSize":15,"dx":43.5,"dy":6.5,"color":"#222","clip":false},"encoding":{"x":{"datum":0.062},"y":{"datum":2.093}}},
 {"data":{"name":"titles"},"transform":[{"filter":"datum.p==3"}],"mark":{"type":"text","align":"left","baseline":"alphabetic","fontSize":20,"dx":54,"color":"#222","clip":false},"encoding":{"x":{"datum":0.062},"y":{"datum":2.093},"text":{"field":"r"}}}
]},
{"width":127,"height":503,"layer":[
 {"data":{"name":"curves"},"transform":[{"filter":"datum.p==4"}],"mark":{"type":"line","color":"#7a7a7a","strokeWidth":1.1},"encoding":{"x":{"field":"x","type":"quantitative","scale":{"domain":[0,0.5]},"axis":{"values":[0,0.5],"format":"~g","title":null}},"y":{"field":"y","type":"quantitative","scale":{"domain":[0,2]},"axis":{"values":[0,0.2,0.4,0.6,0.8,1,1.2,1.4,1.6,1.8,2],"format":"~g","title":null}},"detail":{"field":"h"}}},
 {"data":{"name":"curves"},"transform":[{"filter":"datum.p==4"}],"mark":{"type":"point","filled":true,"size":10,"color":"#111","opacity":1},"encoding":{"x":{"field":"x","type":"quantitative"},"y":{"field":"y","type":"quantitative"}}},
 {"data":{"name":"leaders"},"transform":[{"filter":"datum.p==4"}],"mark":{"type":"rule","color":"#a8a8a8","strokeWidth":1},"encoding":{"x":{"field":"x","type":"quantitative"},"y":{"field":"y","type":"quantitative"},"x2":{"field":"x2"},"y2":{"field":"y2"}}},
 {"data":{"name":"labels"},"transform":[{"filter":"datum.p==4"}],"mark":{"type":"text","fontSize":15.5,"color":"#222"},"encoding":{"x":{"field":"x","type":"quantitative"},"y":{"field":"y","type":"quantitative"},"text":{"field":"t"}}},
 {"data":{"name":"titles"},"transform":[{"filter":"datum.p==4"}],"mark":{"type":"text","text":"E","align":"left","baseline":"alphabetic","fontSize":20,"color":"#222","clip":false},"encoding":{"x":{"datum":0.07},"y":{"datum":2.093}}},
 {"data":{"name":"titles"},"transform":[{"filter":"datum.p==4"}],"mark":{"type":"text","text":"s","align":"left","baseline":"alphabetic","fontSize":15,"dx":14.5,"dy":6.5,"color":"#222","clip":false},"encoding":{"x":{"datum":0.07},"y":{"datum":2.093}}},
 {"data":{"name":"titles"},"transform":[{"filter":"datum.p==4"}],"mark":{"type":"text","text":"/E","align":"left","baseline":"alphabetic","fontSize":20,"dx":23,"color":"#222","clip":false},"encoding":{"x":{"datum":0.07},"y":{"datum":2.093}}},
 {"data":{"name":"titles"},"transform":[{"filter":"datum.p==4"}],"mark":{"type":"text","text":"b","align":"left","baseline":"alphabetic","fontSize":15,"dx":43.5,"dy":6.5,"color":"#222","clip":false},"encoding":{"x":{"datum":0.07},"y":{"datum":2.093}}},
 {"data":{"name":"titles"},"transform":[{"filter":"datum.p==4"}],"mark":{"type":"text","align":"left","baseline":"alphabetic","fontSize":20,"dx":54,"color":"#222","clip":false},"encoding":{"x":{"datum":0.07},"y":{"datum":2.093},"text":{"field":"r"}}}
]},
{"width":127,"height":503,"layer":[
 {"data":{"name":"curves"},"transform":[{"filter":"datum.p==5"}],"mark":{"type":"line","color":"#7a7a7a","strokeWidth":1.1},"encoding":{"x":{"field":"x","type":"quantitative","scale":{"domain":[0,0.5]},"axis":{"values":[0,0.5],"format":"~g","title":null}},"y":{"field":"y","type":"quantitative","scale":{"domain":[0,2]},"axis":{"values":[0,0.2,0.4,0.6,0.8,1,1.2,1.4,1.6,1.8,2],"format":"~g","title":null}},"detail":{"field":"h"}}},
 {"data":{"name":"curves"},"transform":[{"filter":"datum.p==5"}],"mark":{"type":"point","filled":true,"size":10,"color":"#111","opacity":1},"encoding":{"x":{"field":"x","type":"quantitative"},"y":{"field":"y","type":"quantitative"}}},
 {"data":{"name":"leaders"},"transform":[{"filter":"datum.p==5"}],"mark":{"type":"rule","color":"#a8a8a8","strokeWidth":1},"encoding":{"x":{"field":"x","type":"quantitative"},"y":{"field":"y","type":"quantitative"},"x2":{"field":"x2"},"y2":{"field":"y2"}}},
 {"data":{"name":"labels"},"transform":[{"filter":"datum.p==5"}],"mark":{"type":"text","fontSize":15.5,"color":"#222"},"encoding":{"x":{"field":"x","type":"quantitative"},"y":{"field":"y","type":"quantitative"},"text":{"field":"t"}}},
 {"data":{"name":"titles"},"transform":[{"filter":"datum.p==5"}],"mark":{"type":"text","text":"E","align":"left","baseline":"alphabetic","fontSize":20,"color":"#222","clip":false},"encoding":{"x":{"datum":0.086},"y":{"datum":2.093}}},
 {"data":{"name":"titles"},"transform":[{"filter":"datum.p==5"}],"mark":{"type":"text","text":"s","align":"left","baseline":"alphabetic","fontSize":15,"dx":14.5,"dy":6.5,"color":"#222","clip":false},"encoding":{"x":{"datum":0.086},"y":{"datum":2.093}}},
 {"data":{"name":"titles"},"transform":[{"filter":"datum.p==5"}],"mark":{"type":"text","text":"/E","align":"left","baseline":"alphabetic","fontSize":20,"dx":23,"color":"#222","clip":false},"encoding":{"x":{"datum":0.086},"y":{"datum":2.093}}},
 {"data":{"name":"titles"},"transform":[{"filter":"datum.p==5"}],"mark":{"type":"text","text":"b","align":"left","baseline":"alphabetic","fontSize":15,"dx":43.5,"dy":6.5,"color":"#222","clip":false},"encoding":{"x":{"datum":0.086},"y":{"datum":2.093}}},
 {"data":{"name":"titles"},"transform":[{"filter":"datum.p==5"}],"mark":{"type":"text","align":"left","baseline":"alphabetic","fontSize":20,"dx":54,"color":"#222","clip":false},"encoding":{"x":{"datum":0.086},"y":{"datum":2.093},"text":{"field":"r"}}}
]}
]
}
